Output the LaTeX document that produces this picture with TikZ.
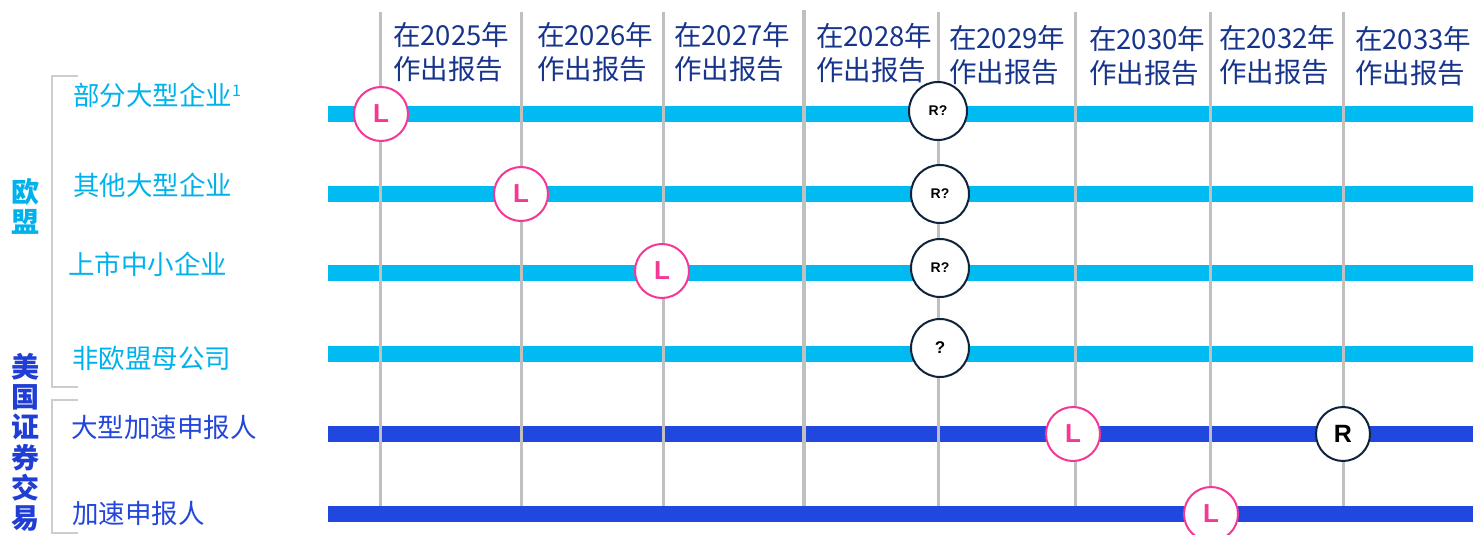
\documentclass[tikz,border=0pt]{standalone}
\usepackage{fontspec}
\setmainfont{Liberation Sans}
\newfontfamily\cjk{Noto Sans CJK SC}
\definecolor{barcyan}{RGB}{0,187,242}
\definecolor{txtcyan}{RGB}{0,178,236}
\definecolor{barblue}{RGB}{33,72,222}
\definecolor{txtblue}{RGB}{35,70,220}
\definecolor{sideblue}{RGB}{32,62,212}
\definecolor{navytxt}{RGB}{22,52,140}
\definecolor{gridgray}{RGB}{192,192,192}
\definecolor{brgray}{RGB}{205,205,205}
\definecolor{pinkc}{RGB}{245,55,150}
\definecolor{navyc}{RGB}{15,35,60}
\tikzset{
  x=1pt,y=-1pt,
  bar/.style={line width=16pt},
  grid/.style={draw=gridgray,line width=3pt},
  bracket/.style={draw=brgray,line width=2pt},
  head/.style={anchor=base west,inner sep=0pt,align=left,text=navytxt,
    font=\cjk\fontsize{27.5}{34}\selectfont},
  rowlab/.style={anchor=base west,inner sep=0pt,font=\cjk\fontsize{26.5}{30}\selectfont},
  side/.style={anchor=north,inner sep=0pt,align=center,font=\cjk\bfseries\fontsize{28}{30.3}\selectfont},
  lcirc/.style={circle,draw=pinkc,line width=2pt,fill=white,minimum size=54pt,inner sep=0pt,
    text=pinkc,font=\bfseries\fontsize{26}{26}\selectfont},
  rqcirc/.style={circle,draw=navyc,line width=2pt,fill=white,minimum size=58pt,inner sep=0pt,
    text=black,font=\bfseries\fontsize{14}{14}\selectfont},
  rcirc/.style={circle,draw=navyc,line width=2pt,fill=white,minimum size=54pt,inner sep=0pt,
    text=black,font=\bfseries\fontsize{25}{25}\selectfont},
}
\begin{document}
\begin{tikzpicture}
\useasboundingbox[fill=white] (0,0) rectangle (1473,535);
% bars
\draw[bar,barcyan] (328,114) -- (1473,114);
\draw[bar,barcyan] (328,194) -- (1473,194);
\draw[bar,barcyan] (328,273) -- (1473,273);
\draw[bar,barcyan] (328,354) -- (1473,354);
\draw[bar,barblue] (328,434) -- (1473,434);
\draw[bar,barblue] (328,514) -- (1473,514);
% grid lines
\foreach \xx in {380,521,663,938,1075,1210,1343}
  \draw[grid] (\xx,12) -- (\xx,506);
\draw[grid,line width=4pt] (804,10) -- (804,506);
% headers (anchor = baseline of second line)
\node[head] (h25) at (393,80) {在2025年\\作出报告};
\node[head] (h26) at (537,80) {在2026年\\作出报告};
\node[head] (h27) at (674,80) {在2027年\\作出报告};
\node[head] (h28) at (816,81) {在2028年\\作出报告};
\node[head] (h29) at (949,83) {在2029年\\作出报告};
\node[head] (h30) at (1089,84) {在2030年\\作出报告};
\node[head] (h32) at (1219,83) {在2032年\\作出报告};
\node[head] (h33) at (1355,84) {在2033年\\作出报告};
% row labels
\node[rowlab,text=txtcyan] (r1) at (73,106) {部分大型企业\raisebox{0.35em}{\fontsize{16}{16}\selectfont 1}};
\node[rowlab,text=txtcyan] (r2) at (73,195) {其他大型企业};
\node[rowlab,text=txtcyan] (r3) at (68,274) {上市中小企业};
\node[rowlab,text=txtcyan] (r4) at (72,368) {非欧盟母公司};
\node[rowlab,text=txtblue] (r5) at (71,437) {大型加速申报人};
\node[rowlab,text=txtblue] (r6) at (72,523) {加速申报人};
% brackets
\draw[bracket] (78,76) -- (52,76) -- (52,387) -- (78,387);
\draw[bracket] (78,400) -- (52,400) -- (52,533) -- (78,533);
% side labels
\node[side,text=txtcyan] (eu) at (25,178) {欧\\盟};
\node[side,text=sideblue] (us) at (25,353) {美\\国\\证\\券\\交\\易\\委};
% markers
\node[lcirc] (l1) at (381,114) {L};
\node[lcirc] (l2) at (521,194) {L};
\node[lcirc] (l3) at (662,271) {L};
\node[lcirc] (l4) at (1073,434) {L};
\node[lcirc] (l5) at (1211,514) {L};
\node[rqcirc] (q1) at (938,111) {R?};
\node[rqcirc] (q2) at (940,194) {R?};
\node[rqcirc] (q3) at (940,268) {R?};
\node[rqcirc] (q4) at (940,348) {\fontsize{17}{17}\selectfont ?};
\node[rcirc] (rr) at (1343,434) {R};
\end{tikzpicture}
\end{document}
